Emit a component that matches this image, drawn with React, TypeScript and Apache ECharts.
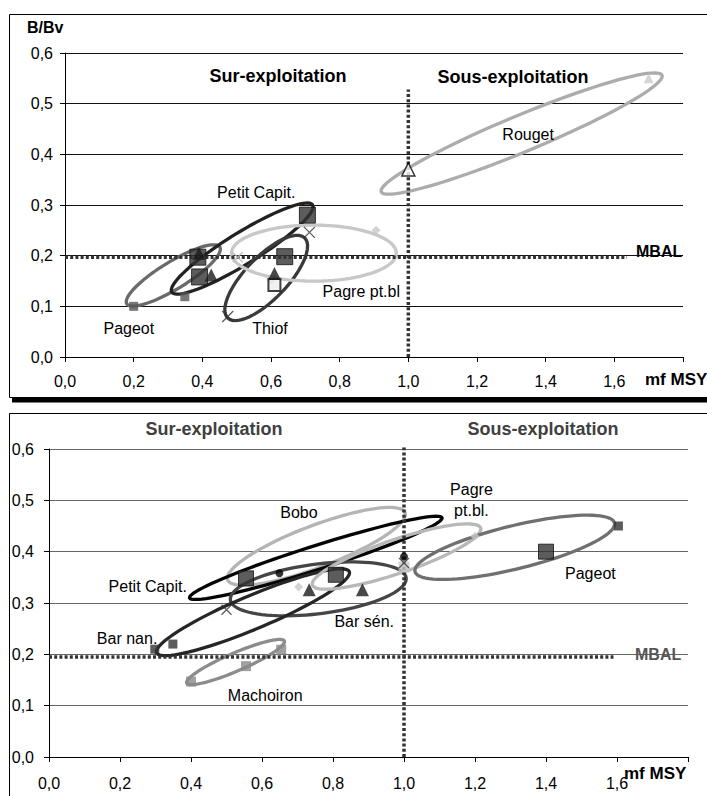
import React, { useEffect, useRef } from 'react';
import * as echarts from 'echarts';

const FONT = '"Liberation Sans", Arial, sans-serif';

// ---------- shared axis ----------
const X_MIN = 0;
const X_MAX = 1.8;
const X_STEP = 0.2;
const Y_MIN = 0;
const Y_MAX = 0.6;
const Y_STEP = 0.1;
const MBAL = 0.197;

// ---------- top panel ----------
const TOP_SPECIES = ['Pageot', 'Petit Capit.', 'Thiof', 'Pagre pt.bl', 'Rouget'];
const TOP_ELLIPSE_TIPS = [
  [0.18, 0.105, 0.451, 0.217],
  [0.311, 0.128, 0.721, 0.3],
  [0.474, 0.077, 0.698, 0.235],
  [0.485, 0.205, 0.965, 0.205],
  [0.921, 0.326, 1.739, 0.556],
];
const TOP_ELLIPSE_RATIO = [0.25, 0.19, 0.38, 0.34, 0.12];
const TOP_LABEL_POS = [
  [0.186, 0.057],
  [0.557, 0.324],
  [0.597, 0.057],
  [0.863, 0.129],
  [1.349, 0.44],
];
const TOP_BIG_SQUARES = [[0.706, 0.28], [0.64, 0.198], [0.392, 0.158], [0.387, 0.197]];
const TOP_TRIANGLES = [[0.39, 0.205], [0.426, 0.162], [0.61, 0.165]];
const TOP_SMALL_SQUARES = [[0.2, 0.1], [0.349, 0.119]];
const TOP_CROSSES = [[0.474, 0.08], [0.712, 0.246]];
const TOP_LIGHT_CROSSES = [[0.503, 0.197]];
const TOP_DIAMONDS = [[0.906, 0.25], [0.6, 0.152]];
const TOP_OPEN_SQUARES = [[0.61, 0.142]];
const TOP_OPEN_TRIANGLES = [[1.0, 0.37]];
const TOP_LIGHT_TRIANGLES = [[1.7, 0.55]];
const TOP_MBAL_END = 1.637;
const TOP_VLINE_END = 0.528;

// ---------- bottom panel ----------
const BOT_SPECIES = ['Bobo', 'Petit Capit.', 'Bar sén.', 'Bar nan.', 'Machoiron', 'Pagre\npt.bl.', 'Pageot'];
const BOT_ELLIPSE_TIPS = [
  [0.503, 0.345, 1.003, 0.476],
  [0.396, 0.31, 1.107, 0.466],
  [0.511, 0.306, 1.006, 0.349],
  [0.303, 0.203, 0.846, 0.361],
  [0.388, 0.144, 0.663, 0.226],
  [0.742, 0.335, 1.216, 0.446],
  [1.031, 0.361, 1.593, 0.456],
];
const BOT_ELLIPSE_RATIO = [0.22, 0.09, 0.28, 0.16, 0.17, 0.19, 0.21];
const BOT_LABEL_POS = [
  [0.704, 0.476],
  [0.278, 0.332],
  [0.888, 0.263],
  [0.22, 0.231],
  [0.609, 0.119],
  [1.19, 0.501],
  [1.525, 0.358],
];
const BOT_BIG_SQUARES = [[0.555, 0.348], [0.808, 0.355], [1.4, 0.4]];
const BOT_SMALL_SQUARES = [[0.298, 0.21], [0.349, 0.22], [1.604, 0.45]];
const BOT_GRAY_SQUARES = [[0.4, 0.147], [0.555, 0.177], [0.654, 0.209]];
const BOT_DOTS = [[0.649, 0.358], [1.0, 0.39]];
const BOT_TRIANGLES = [[0.733, 0.326], [0.883, 0.326]];
const BOT_DIAMONDS = [[0.703, 0.331], [1.2, 0.43]];
const BOT_LIGHT_SQUARES = [[1.0, 0.37]];
const BOT_CROSSES = [[0.5, 0.287], [1.0, 0.378]];
const BOT_MBAL_END = 1.59;
const BOT_VLINE_END = 0.605;

// ---------- styles ----------
const TOP_ELLIPSE_COLORS = ['#6a6a6a', '#222222', '#3a3a3a', '#c8c8c8', '#acacac'];
const BOT_ELLIPSE_COLORS = ['#b4b4b4', '#050505', '#454545', '#262626', '#8c8c8c', '#b8b8b8', '#707070'];
const CROSS_PATH = 'path://M0,0L10,10M10,0L0,10';

const fmt = (v: number) => v.toFixed(1).replace('.', ',');

function ellipseSeries(tips: number[][], ratios: number[], colors: string[], idx: number) {
  return {
    type: 'custom',
    xAxisIndex: idx,
    yAxisIndex: idx,
    coordinateSystem: 'cartesian2d',
    data: tips.map((t, i) => [t[0], t[1], t[2], t[3], ratios[i]]),
    encode: { x: [0, 2], y: [1, 3] },
    clip: false,
    silent: true,
    z: 3,
    renderItem: (params: any, api: any) => {
      const a = api.coord([api.value(0), api.value(1)]);
      const b = api.coord([api.value(2), api.value(3)]);
      const r = api.value(4);
      const cx = (a[0] + b[0]) / 2;
      const cy = (a[1] + b[1]) / 2;
      const dx = b[0] - a[0];
      const dy = b[1] - a[1];
      const len = Math.sqrt(dx * dx + dy * dy);
      const ux = dx / len;
      const uy = dy / len;
      const ma = len / 2;
      const mb = ma * r;
      const pts: number[][] = [];
      const n = 90;
      for (let k = 0; k < n; k++) {
        const t = (k / n) * Math.PI * 2;
        const c = Math.cos(t) * ma;
        const s = Math.sin(t) * mb;
        pts.push([cx + c * ux - s * uy, cy + c * uy + s * ux]);
      }
      return {
        type: 'polygon',
        shape: { points: pts },
        style: { fill: 'none', stroke: colors[params.dataIndex], lineWidth: 3.3 },
      };
    },
  };
}

function labelSeries(pos: number[][], names: string[], idx: number) {
  return {
    type: 'custom',
    xAxisIndex: idx,
    yAxisIndex: idx,
    coordinateSystem: 'cartesian2d',
    data: pos.map((p) => [p[0], p[1]]),
    clip: false,
    silent: true,
    z: 10,
    renderItem: (params: any, api: any) => {
      const p = api.coord([api.value(0), api.value(1)]);
      return {
        type: 'text',
        x: p[0],
        y: p[1],
        style: {
          text: names[params.dataIndex],
          font: `16px ${FONT}`,
          fill: '#000',
          align: 'center',
          verticalAlign: 'middle',
          lineHeight: 21,
        },
      };
    },
  };
}

function scatter(data: number[][], idx: number, symbol: string, size: number, itemStyle: any, z = 6) {
  return {
    type: 'scatter',
    xAxisIndex: idx,
    yAxisIndex: idx,
    data,
    symbol,
    symbolSize: size,
    itemStyle,
    silent: true,
    z,
  };
}

function dotted(data: number[][], idx: number) {
  return {
    type: 'line',
    xAxisIndex: idx,
    yAxisIndex: idx,
    data,
    symbol: 'none',
    silent: true,
    z: 4,
    lineStyle: { color: '#333', width: 3.5, type: [3, 2.2], cap: 'butt' },
  };
}

function xAxis(idx: number, margin: number) {
  return {
    type: 'value',
    gridIndex: idx,
    min: X_MIN,
    max: X_MAX,
    interval: X_STEP,
    axisLine: { show: true, lineStyle: { color: '#000', width: 1 } },
    axisTick: { show: true, length: 5, lineStyle: { color: '#000' } },
    splitLine: { show: false },
    axisLabel: {
      margin,
      color: '#000',
      fontFamily: FONT,
      fontSize: 16,
      formatter: (v: number) => (v > 1.7 ? '' : fmt(v)),
    },
  };
}

function yAxis(idx: number, margin: number, gridColor: string) {
  return {
    type: 'value',
    gridIndex: idx,
    min: Y_MIN,
    max: Y_MAX,
    interval: Y_STEP,
    axisLine: { show: true, onZero: false, lineStyle: { color: '#000', width: 1 } },
    axisTick: { show: true, length: 5, lineStyle: { color: '#000' } },
    splitLine: { show: true, lineStyle: { color: gridColor, width: 1 } },
    axisLabel: {
      margin,
      color: '#000',
      fontFamily: FONT,
      fontSize: 16,
      formatter: (v: number) => fmt(v),
    },
  };
}

function txt(text: string, x: number, y: number, size: number, bold: boolean, color: string, align = 'left') {
  return {
    type: 'text',
    x,
    y,
    z: 20,
    style: {
      text,
      font: `${bold ? 'bold ' : ''}${size}px ${FONT}`,
      fill: color,
      align,
      verticalAlign: 'middle',
    },
  };
}

export default function App() {
  const ref = useRef<HTMLDivElement>(null);
  useEffect(() => {
    if (!ref.current) return;
    const chart = echarts.init(ref.current, null, { renderer: 'svg' });
    const option: any = {
      animation: false,
      backgroundColor: '#fff',
      grid: [
        { left: 65, top: 53, width: 618, height: 304 },
        { left: 49, top: 449, width: 639, height: 308 },
      ],
      xAxis: [xAxis(0, 16), xAxis(1, 18)],
      yAxis: [yAxis(0, 12, '#111'), yAxis(1, 15, '#666')],
      graphic: [
        { type: 'rect', z: 1, shape: { x: 9.5, y: 14.5, width: 720, height: 383 }, style: { fill: 'none', stroke: '#000', lineWidth: 1 } },
        { type: 'rect', z: 1, shape: { x: 12, y: 398, width: 700, height: 4.5 }, style: { fill: '#000' } },
        { type: 'rect', z: 1, shape: { x: 9.5, y: 413.5, width: 720, height: 400 }, style: { fill: 'none', stroke: '#000', lineWidth: 1 } },
        txt('B/Bv', 27, 27, 16, true, '#000'),
        txt('Sur-exploitation', 278, 76, 18, true, '#000', 'center'),
        txt('Sous-exploitation', 513, 77, 18, true, '#000', 'center'),
        txt('MBAL', 636, 251, 16, true, '#000'),
        txt('mf MSY', 645, 379, 17, true, '#000'),
        txt('Sur-exploitation', 214, 429, 18, true, '#404040', 'center'),
        txt('Sous-exploitation', 543, 429, 18, true, '#404040', 'center'),
        txt('MBAL', 635, 654, 16, true, '#555'),
        txt('mf MSY', 624, 773, 17, true, '#000'),
      ],
      series: [
        // top panel
        ellipseSeries(TOP_ELLIPSE_TIPS, TOP_ELLIPSE_RATIO, TOP_ELLIPSE_COLORS, 0),
        dotted([[0, MBAL], [TOP_MBAL_END, MBAL]], 0),
        dotted([[1, 0], [1, TOP_VLINE_END]], 0),
        scatter(TOP_SMALL_SQUARES, 0, 'rect', 9, { color: '#555' }),
        scatter(TOP_DIAMONDS, 0, 'diamond', 9, { color: '#c8c8c8' }),
        scatter(TOP_LIGHT_CROSSES, 0, CROSS_PATH, 10, { color: 'none', borderColor: '#bbb', borderWidth: 1.5 }),
        scatter(TOP_OPEN_SQUARES, 0, 'rect', 12, { color: '#eee', borderColor: '#111', borderWidth: 2 }),
        scatter(TOP_BIG_SQUARES, 0, 'rect', 16, { color: '#333', borderColor: '#111', borderWidth: 1 }, 7),
        scatter(TOP_TRIANGLES, 0, 'triangle', 13, { color: '#1a1a1a' }, 8),
        scatter(TOP_CROSSES, 0, CROSS_PATH, 11, { color: 'none', borderColor: '#333', borderWidth: 1.3 }),
        scatter(TOP_OPEN_TRIANGLES, 0, 'triangle', 13, { color: '#fff', borderColor: '#000', borderWidth: 1.5 }, 8),
        scatter(TOP_LIGHT_TRIANGLES, 0, 'triangle', 10, { color: '#ccc' }),
        labelSeries(TOP_LABEL_POS, TOP_SPECIES, 0),
        // bottom panel
        ellipseSeries(BOT_ELLIPSE_TIPS, BOT_ELLIPSE_RATIO, BOT_ELLIPSE_COLORS, 1),
        dotted([[0, MBAL - 0.002], [BOT_MBAL_END, MBAL - 0.002]], 1),
        dotted([[1, 0], [1, BOT_VLINE_END]], 1),
        scatter(BOT_GRAY_SQUARES, 1, 'rect', 10, { color: '#8a8a8a' }),
        scatter(BOT_SMALL_SQUARES, 1, 'rect', 9, { color: '#333' }),
        scatter(BOT_DIAMONDS, 1, 'diamond', 9, { color: '#c8c8c8' }),
        scatter(BOT_LIGHT_SQUARES, 1, 'rect', 11, { color: '#c8c8c8' }),
        scatter(BOT_BIG_SQUARES, 1, 'rect', 15, { color: '#333', borderColor: '#111', borderWidth: 1 }, 7),
        scatter(BOT_TRIANGLES, 1, 'triangle', 13, { color: '#1a1a1a' }, 8),
        scatter(BOT_DOTS, 1, 'circle', 8, { color: '#000' }, 8),
        scatter(BOT_CROSSES, 1, CROSS_PATH, 10, { color: 'none', borderColor: '#333', borderWidth: 1.3 }, 8),
        labelSeries(BOT_LABEL_POS, BOT_SPECIES, 1),
      ],
    };
    chart.setOption(option);
    return () => chart.dispose();
  }, []);
  return (
    <div
      ref={ref}
      style={{ position: 'fixed', left: 0, top: 0, width: 707, height: 796, background: '#fff' }}
    />
  );
}
